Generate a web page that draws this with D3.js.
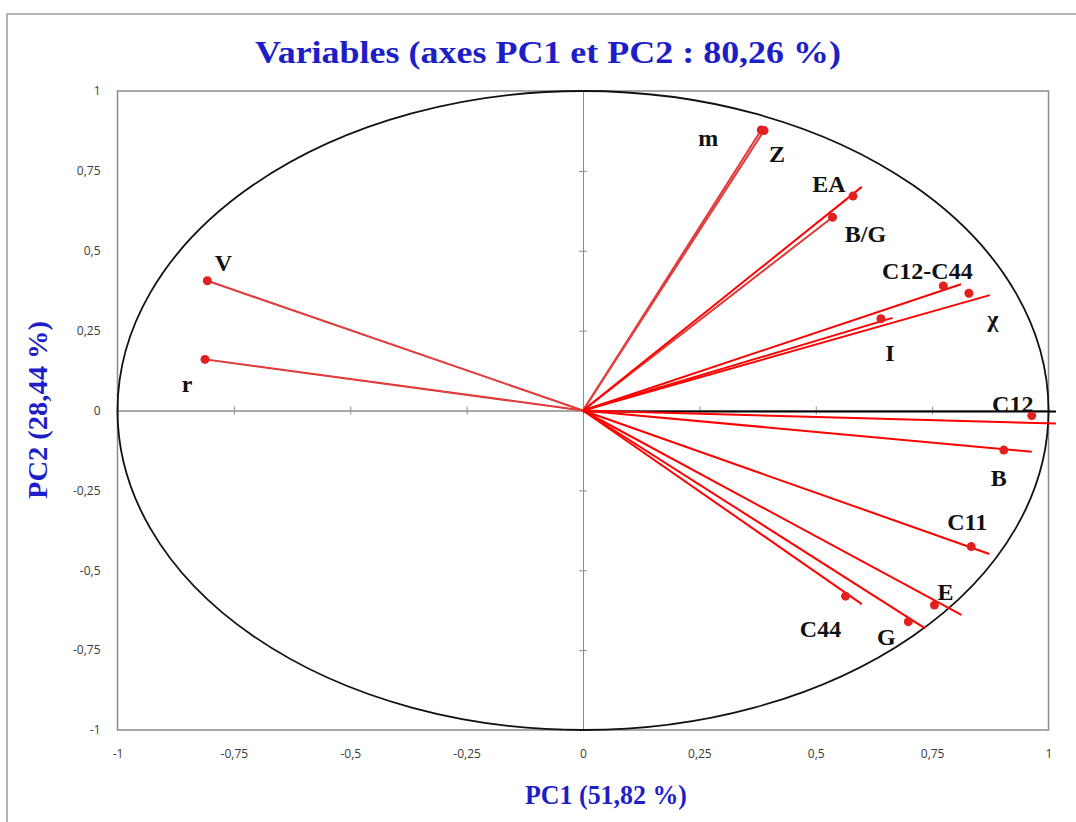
<!DOCTYPE html>
<html>
<head>
<meta charset="utf-8">
<script src="https://cdn.jsdelivr.net/npm/d3@7"></script>
<style>
  body { margin: 0; background: #fff; }
</style>
</head>
<body>
<svg></svg>
<script>
// variable names and their coordinates on PC1 / PC2
let names = ['V', 'r', 'm', 'Z', 'EA', 'B/G', 'C12-C44', 'χ', 'I', 'C12', 'B', 'C11', 'E', 'G', 'C44']
let pc1 = [-0.807, -0.812, 0.383, 0.389, 0.580, 0.536, 0.774, 0.829, 0.640, 0.964, 0.904, 0.834, 0.755, 0.699, 0.564]
let pc2 = [0.406, 0.160, 0.878, 0.876, 0.671, 0.605, 0.390, 0.367, 0.287, -0.016, -0.124, -0.426, -0.609, -0.661, -0.581]

// end of the drawn arrow line (null = line stops at the point)
let endPc1 = [null, null, null, null, 0.599, null, 0.812, 0.874, 0.665, 1.016, 0.964, 0.873, 0.813, 0.735, 0.599]
let endPc2 = [null, null, null, null, 0.700, null, 0.395, 0.361, 0.290, -0.041, -0.129, -0.449, -0.640, -0.682, -0.606]

// tick values and labels
let tickValues = [-1, -0.75, -0.5, -0.25, 0, 0.25, 0.5, 0.75, 1]
let tickLabels = ['-1', '-0,75', '-0,5', '-0,25', '0', '0,25', '0,5', '0,75', '1']

let title = 'Variables (axes PC1 et PC2 : 80,26 %)'
let xTitle = 'PC1 (51,82 %)'
let yTitle = 'PC2 (28,44 %)'

// canvas
let width = 1076
let height = 822
let plot = { left: 117.5, right: 1048.5, top: 91, bottom: 730 }

let svg = d3.select('svg')
    .attr('width', width)
    .attr('height', height)

// label offsets in pixels from the point (layout only)
let labelNudge = {
    'V': [16, -18], 'r': [-18, 24], 'm': [-53, 8], 'Z': [13, 23],
    'EA': [-24, -13], 'B/G': [33, 16], 'C12-C44': [-16, -15], 'χ': [24, 25],
    'I': [9, 34], 'C12': [-19, -12], 'B': [-5, 27], 'C11': [-4, -25],
    'E': [11, -13], 'G': [-22, 15], 'C44': [-25, 32]
}

let xScale = d3.scaleLinear().domain([-1, 1]).range([plot.left, plot.right])
let yScale = d3.scaleLinear().domain([-1, 1]).range([plot.bottom, plot.top])

let items = names.map((n, i) => ({
    name: n, x: pc1[i], y: pc2[i],
    ex: endPc1[i] == null ? pc1[i] : endPc1[i],
    ey: endPc2[i] == null ? pc2[i] : endPc2[i],
    thin: endPc1[i] == null
}))

// outer frame
svg.append('rect')
    .attr('x', 7).attr('y', 14)
    .attr('width', width + 20).attr('height', height + 20)
    .attr('fill', 'none').attr('stroke', '#9a9a9a').attr('stroke-width', 1.5)

// title
svg.append('text')
    .attr('x', 548).attr('y', 63)
    .attr('text-anchor', 'middle')
    .attr('font-family', 'Liberation Serif').attr('font-weight', 'bold')
    .attr('font-size', 32).attr('fill', '#1e1ec8')
    .attr('textLength', 586).attr('lengthAdjust', 'spacingAndGlyphs')
    .text(title)

// plot border
svg.append('rect')
    .attr('x', plot.left).attr('y', plot.top)
    .attr('width', plot.right - plot.left).attr('height', plot.bottom - plot.top)
    .attr('fill', 'none').attr('stroke', '#8c8c8c').attr('stroke-width', 1.5)

// tick labels at the plot edges
let yLabels = d3.axisLeft(yScale).tickValues(tickValues)
    .tickFormat((d, i) => tickLabels[i]).tickSize(0).tickPadding(17)
let yg = svg.append('g').attr('transform', 'translate(' + plot.left + ',0)').call(yLabels)
yg.select('.domain').remove()
yg.selectAll('text').attr('font-family', 'Open Sans').attr('font-size', 12).attr('fill', '#3a3a3a')

let xLabels = d3.axisBottom(xScale).tickValues(tickValues)
    .tickFormat((d, i) => tickLabels[i]).tickSize(0).tickPadding(19)
let xg = svg.append('g').attr('transform', 'translate(0,' + plot.bottom + ')').call(xLabels)
xg.select('.domain').remove()
xg.selectAll('text').attr('font-family', 'Open Sans').attr('font-size', 12).attr('fill', '#3a3a3a')

// centre axes with crossing ticks
let inner = tickValues.filter(v => v !== 0 && Math.abs(v) !== 1)
let drawCentre = (axis, transform) => {
    let g = svg.append('g').attr('transform', transform).call(axis)
    g.selectAll('text').remove()
    g.select('.domain').attr('stroke', '#8c8c8c')
    g.selectAll('line').attr('stroke', '#8c8c8c')
    return g
}
drawCentre(d3.axisLeft(yScale).tickValues(inner).tickSizeOuter(0).tickSize(4), 'translate(' + xScale(0) + ',0)')
drawCentre(d3.axisRight(yScale).tickValues(inner).tickSizeOuter(0).tickSize(4), 'translate(' + xScale(0) + ',0)')
drawCentre(d3.axisBottom(xScale).tickValues(inner).tickSizeOuter(0).tickSize(4), 'translate(0,' + yScale(0) + ')')
drawCentre(d3.axisTop(xScale).tickValues(inner).tickSizeOuter(0).tickSize(4), 'translate(0,' + yScale(0) + ')')

// correlation circle
svg.append('ellipse')
    .attr('cx', xScale(0)).attr('cy', yScale(0))
    .attr('rx', xScale(1) - xScale(0)).attr('ry', yScale(0) - yScale(1))
    .attr('fill', 'none').attr('stroke', '#111').attr('stroke-width', 1.8)

// black line along the positive PC1 axis
svg.append('line')
    .attr('x1', xScale(0)).attr('y1', yScale(0) + 1)
    .attr('x2', xScale(endPc1[9])).attr('y2', yScale(0) + 1)
    .attr('stroke', '#000').attr('stroke-width', 1.8)

// thin lines: darker edge with red centre
let thinItems = items.filter(d => d.thin)
svg.selectAll('line.thinOut').data(thinItems).enter().append('line')
    .attr('class', 'thinOut')
    .attr('x1', xScale(0)).attr('y1', yScale(0))
    .attr('x2', d => xScale(d.x)).attr('y2', d => yScale(d.y))
    .attr('stroke', '#c83a3a').attr('stroke-width', 2)
svg.selectAll('line.thinIn').data(thinItems).enter().append('line')
    .attr('class', 'thinIn')
    .attr('x1', xScale(0)).attr('y1', yScale(0))
    .attr('x2', d => xScale(d.x)).attr('y2', d => yScale(d.y))
    .attr('stroke', '#ff3b3b').attr('stroke-width', 0.9)

// bright red lines going past the point
svg.selectAll('line.thick').data(items.filter(d => !d.thin)).enter().append('line')
    .attr('class', 'thick')
    .attr('x1', xScale(0)).attr('y1', yScale(0))
    .attr('x2', d => xScale(d.ex)).attr('y2', d => yScale(d.ey))
    .attr('stroke', '#ff0000').attr('stroke-width', 2)

// points
svg.selectAll('circle.pt').data(items).enter().append('circle')
    .attr('class', 'pt')
    .attr('cx', d => xScale(d.x)).attr('cy', d => yScale(d.y))
    .attr('r', 4.5).attr('fill', '#e32020')

// variable labels
svg.selectAll('text.lab').data(items).enter().append('text')
    .attr('class', 'lab')
    .attr('x', d => xScale(d.x) + labelNudge[d.name][0])
    .attr('y', d => yScale(d.y) + labelNudge[d.name][1])
    .attr('dy', '0.35em')
    .attr('text-anchor', 'middle')
    .attr('font-family', 'Liberation Serif').attr('font-weight', 'bold')
    .attr('font-size', 24).attr('fill', '#111')
    .text(d => d.name)

// axis titles
svg.append('text')
    .attr('x', 606).attr('y', 804)
    .attr('text-anchor', 'middle')
    .attr('font-family', 'Liberation Serif').attr('font-weight', 'bold')
    .attr('font-size', 28).attr('fill', '#1e1ec8')
    .attr('textLength', 162).attr('lengthAdjust', 'spacingAndGlyphs')
    .text(xTitle)

svg.append('text')
    .attr('transform', 'translate(47,410) rotate(-90)')
    .attr('text-anchor', 'middle')
    .attr('font-family', 'Liberation Serif').attr('font-weight', 'bold')
    .attr('font-size', 28).attr('fill', '#1e1ec8')
    .attr('textLength', 178).attr('lengthAdjust', 'spacingAndGlyphs')
    .text(yTitle)
</script>
</body>
</html>
